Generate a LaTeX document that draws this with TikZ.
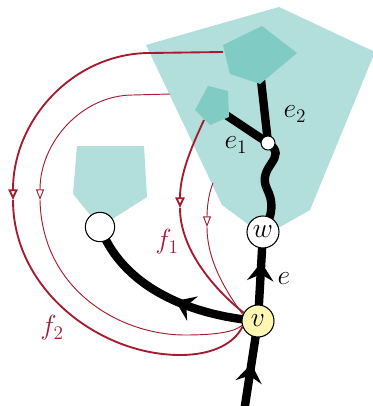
\documentclass[tikz,border=0pt]{standalone}
\usetikzlibrary{arrows.meta,decorations.markings}
\definecolor{tlight}{RGB}{178,223,219}
\definecolor{tdark}{RGB}{128,203,196}
\definecolor{fred}{RGB}{165,28,48}
\definecolor{vyel}{RGB}{255,246,178}
\pgfdeclarelayer{lzero}\pgfdeclarelayer{lone}\pgfdeclarelayer{ltwo}\pgfdeclarelayer{lthree}
\pgfsetlayers{lzero,lone,ltwo,lthree,main}
\begin{document}
\begin{tikzpicture}[x={(0.75pt,0)},y={(0,-0.75pt)},
  vert/.style={circle,draw,line width=0.8pt,fill=white,inner sep=0pt,font=\fontsize{20}{22}\selectfont},
  lbl/.style={inner sep=0pt,font=\fontsize{20}{22}\selectfont},
  edge/.style={line width=6.3pt},
  redthick/.style={draw=fred,line width=1.4pt},
  redthin/.style={draw=fred,line width=0.7pt},
  rtipthick/.style={-{Triangle[open,length=8pt,width=7pt]}},
  rtipthin/.style={-{Triangle[open,length=8pt,width=6pt]}},
  midarrow/.style={postaction={decorate},decoration={markings,mark=at position #1 with {\arrow{Stealth[length=14pt,width=20pt,inset=5pt,line width=0pt]}}}}
]
\useasboundingbox (0,0) rectangle (373,406);
% nodes
\node[vert,minimum size=24pt,fill=vyel] (v) at (258,321) {$v$};
\node[vert,minimum size=24pt] (w) at (263,232) {$w$};
\node[vert,minimum size=22pt] (c) at (100,227) {};
\node[vert,minimum size=10.5pt] (j) at (268,143) {};
\node[lbl] (le2) at (295,114) {$e_2$};
\node[lbl] (le1) at (236,145) {$e_1$};
\node[lbl] (le) at (284,279) {$e$};
\node[lbl,text=fred] (lf1) at (167,242) {$f_1$};
\node[lbl,text=fred] (lf2) at (52,328) {$f_2$};
% named points
\coordinate (bot) at (244,412);
\coordinate (p2) at (223,52);
\coordinate (p2b) at (170,94);
\coordinate (p1) at (204,120);
\coordinate (p1b) at (213,183);
\coordinate (a2) at (13,200);
\coordinate (a2b) at (40,200);
\coordinate (a1) at (180,208);
\coordinate (a1b) at (207,227);
\coordinate (tbig) at (261,80);
\coordinate (tsmall) at (220,111);
\begin{pgfonlayer}{lzero}
  \fill[tlight] (146,45) -- (279,7) -- (375,52) -- (310,210) -- (264,236) -- (222,205) -- cycle;
  \fill[tlight] (77,146) -- (144,146) -- (147,197) -- (100,227) -- (73,194) -- cycle;
\end{pgfonlayer}
\begin{pgfonlayer}{lone}
  \draw[edge] (j.center) -- (tbig);
  \draw[edge] (j.center) -- (tsmall);
\end{pgfonlayer}
\begin{pgfonlayer}{ltwo}
  \fill[tdark] (223,45) -- (262,26) -- (297,53) -- (260,84) -- (230,74) -- cycle;
  \fill[tdark] (208,86) -- (228,91) -- (229,117) -- (210,125) -- (195,110) -- cycle;
\end{pgfonlayer}
\begin{pgfonlayer}{lthree}
  % black edges
  \draw[edge,midarrow=0.53] (bot) -- (v.center);
  \draw[edge,midarrow=0.66] (v.center) -- (w.center);
  \draw[edge,midarrow=0.44] (v.center) .. controls (198,316) and (125,292) .. (c.center);
  \draw[edge] (j.center) .. controls (290,158) and (256,166) .. (267,189) .. controls (273,201) and (274,213) .. (w.center);
  % red curves
  \draw[redthick,rtipthick] (p2) -- (150,53) .. controls (74,53) and (13,119) .. (a2);
  \draw[redthick] (a2) .. controls (13,290) and (100,355) .. (180,355) .. controls (215,355) and (235,342) .. (v.200);
  \draw[redthin,rtipthin] (p2b) -- (133,95) .. controls (82,95) and (40,142) .. (a2b);
  \draw[redthin] (a2b) .. controls (42,290) and (120,335) .. (185,335) .. controls (215,335) and (235,332) .. (v.195);
  \draw[redthick,rtipthick] (p1) .. controls (190,150) and (180,175) .. (a1);
  \draw[redthick] (a1) .. controls (180,250) and (215,290) .. (v.150);
  \draw[redthin,rtipthin] (p1b) .. controls (208,195) and (207,210) .. (a1b);
  \draw[redthin] (a1b) .. controls (207,260) and (225,290) .. (v.157);
\end{pgfonlayer}
\end{tikzpicture}
\end{document}
